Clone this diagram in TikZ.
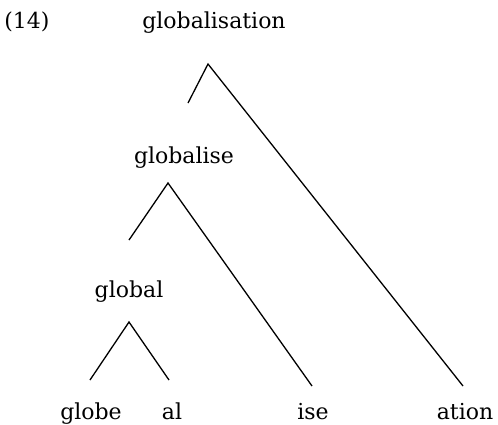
\documentclass[tikz,border=0pt]{standalone}
\usepackage{fontspec}
\setmainfont{DejaVu Serif}
\begin{document}
\begin{tikzpicture}[x=1pt,y=-1pt,
  lbl/.style={inner sep=0pt,anchor=base,font=\fontsize{22}{25}\selectfont},
  branch/.style={line width=1.3pt,black}]
\useasboundingbox (0,0) rectangle (498,424);
\node[lbl] (ex) at (27,28) {(14)};
\node[lbl] (n1) at (214,28) {globalisation};
\node[lbl] (n2) at (184,163) {globalise};
\node[lbl] (n3) at (129,297) {global};
\node[lbl] (globe) at (91,419) {globe};
\node[lbl] (al) at (172,419) {al};
\node[lbl] (ise) at (313,419) {ise};
\node[lbl] (ation) at (465,419) {ation};
\coordinate (a1) at (208,64);
\coordinate (l1) at (188,103);
\coordinate (r1) at (463,386);
\coordinate (a2) at (168,183);
\coordinate (l2) at (129,240);
\coordinate (r2) at (312,386);
\coordinate (a3) at (129,322);
\coordinate (l3) at (90,380);
\coordinate (r3) at (169,380);
\draw[branch] (l1) -- (a1) -- (r1);
\draw[branch] (l2) -- (a2) -- (r2);
\draw[branch] (l3) -- (a3) -- (r3);
\end{tikzpicture}
\end{document}
